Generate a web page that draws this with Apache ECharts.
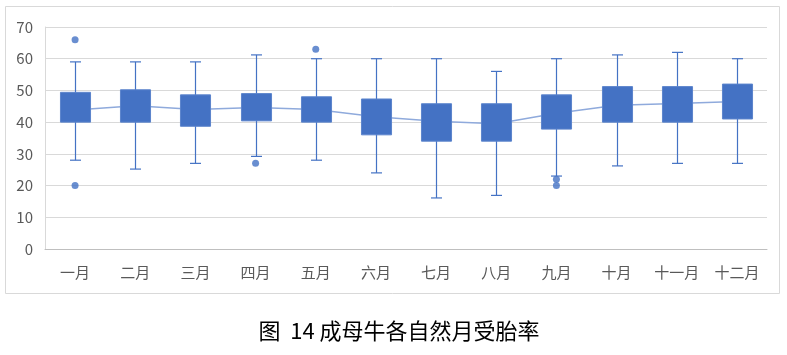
<!DOCTYPE html>
<html><head><meta charset="utf-8">
<script src="https://cdn.jsdelivr.net/npm/echarts@6/dist/echarts.min.js"></script>
<style>html,body{margin:0;padding:0;background:#fff}#c{width:787px;height:355px}</style>
</head><body><div id="c"></div>
<script>
const categories = ['一月','二月','三月','四月','五月','六月','七月','八月','九月','十月','十一月','十二月'];
const whiskerLow  = [28, 25.2, 27, 29.2, 28, 24, 16.1, 16.9, 23, 26.2, 27, 27];
const q1          = [40, 40, 38.7, 40.4, 40, 36, 34, 34, 37.8, 40, 40, 41];
const q3          = [49.4, 50.2, 48.6, 49, 48, 47.3, 45.8, 45.8, 48.6, 51.2, 51.2, 52];
const whiskerHigh = [59, 59, 59, 61.2, 60, 60, 60, 56, 60, 61.2, 62, 60];
const means       = [43.8, 45.2, 44, 44.6, 44, 41.7, 40.3, 39.5, 42.8, 45.3, 45.9, 46.5];
const outlierCat  = [0, 0, 3, 4, 8, 8];
const outlierVal  = [66, 20, 27, 63, 22, 20];
const yTicks = [0, 10, 20, 30, 40, 50, 60, 70];

const boxColor = '#4472C4';
const boxData = categories.map((c, i) => [i, whiskerLow[i], q1[i], q3[i], whiskerHigh[i]]);
const outliers = outlierCat.map((c, i) => [c, outlierVal[i]]);

const chart = echarts.init(document.getElementById('c'));
chart.setOption({
  animation: false,
  graphic: [{
    type: 'rect', z: -10, silent: true,
    shape: { x: 5.5, y: 6.5, width: 774, height: 287 },
    style: { fill: '#fff', stroke: '#D9D9D9', lineWidth: 1 }
  }],
  title: {
    text: '图  14 成母牛各自然月受胎率',
    left: 394, top: 315, textAlign: 'center',
    textStyle: { fontFamily: 'Noto Sans CJK SC', fontSize: 22, fontWeight: 'normal', color: '#000' }
  },
  grid: { left: 45, right: 20, top: 27, bottom: 106, containLabel: false },
  xAxis: {
    type: 'category', data: categories, boundaryGap: true,
    axisLine: { show: true, lineStyle: { color: '#BFBFBF', width: 1 } },
    axisTick: { show: false },
    axisLabel: { color: '#595959', fontSize: 15, margin: 16, fontFamily: 'Noto Sans CJK SC', interval: 0 },
    splitLine: { show: false }
  },
  yAxis: {
    type: 'value', min: 0, max: 70, interval: 10,
    axisLine: { show: true, lineStyle: { color: '#D9D9D9', width: 1 } },
    axisTick: { show: false },
    axisLabel: { color: '#595959', fontSize: 15, margin: 12, fontFamily: 'Noto Sans CJK SC',
      formatter: function (v) { return yTicks.indexOf(v) >= 0 ? String(v) : ''; } },
    splitLine: { show: true, lineStyle: { color: '#D9D9D9', width: 1 } }
  },
  series: [
    {
      type: 'line', data: means, z: 1, symbol: 'none',
      lineStyle: { color: '#8FAADC', width: 1.5 }
    },
    {
      type: 'custom', z: 3,
      data: boxData,
      renderItem: function (params, api) {
        const x = api.value(0);
        const pLow = api.coord([x, api.value(1)]);
        const pQ1 = api.coord([x, api.value(2)]);
        const pQ3 = api.coord([x, api.value(3)]);
        const pHigh = api.coord([x, api.value(4)]);
        const bw = api.size([1, 0])[0] * 0.5;
        const cx = Math.round(pLow[0]) + 0.5;
        const cap = 5.5;
        const ls = { stroke: boxColor, lineWidth: 1.2 };
        return {
          type: 'group',
          children: [
            { type: 'line', shape: { x1: cx, y1: pHigh[1], x2: cx, y2: pLow[1] }, style: ls },
            { type: 'line', shape: { x1: cx - cap, y1: pHigh[1], x2: cx + cap, y2: pHigh[1] }, style: ls },
            { type: 'line', shape: { x1: cx - cap, y1: pLow[1], x2: cx + cap, y2: pLow[1] }, style: ls },
            { type: 'rect', shape: { x: cx - bw / 2, y: pQ3[1], width: bw, height: pQ1[1] - pQ3[1] },
              style: { fill: boxColor, stroke: '#5B84CC', lineWidth: 1 } }
          ]
        };
      }
    },
    {
      type: 'scatter', data: outliers, z: 4, symbol: 'circle', symbolSize: 7,
      itemStyle: { color: boxColor }
    }
  ]
});
</script></body></html>
